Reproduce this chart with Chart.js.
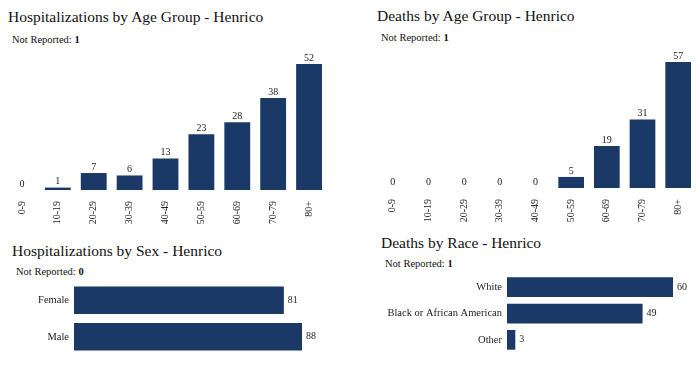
<!DOCTYPE html>
<html>
<head>
<meta charset="utf-8">
<script src="https://cdn.jsdelivr.net/npm/chart.js@4.4.1/dist/chart.umd.min.js"></script>
<style>
  body { margin: 0; background: #fff; }
  #wrap { position: relative; width: 700px; height: 372px; overflow: hidden; font-family: "Liberation Serif", "Times New Roman", serif; color: #111; }
  .title { position: absolute; font-size: 15.5px; line-height: 15.5px; white-space: nowrap; }
  .note { position: absolute; font-size: 10.5px; line-height: 10.5px; white-space: nowrap; }
  .box { position: absolute; }
</style>
</head>
<body>
<div id="wrap">
  <div class="title" style="left:8px;top:9px">Hospitalizations by Age Group - Henrico</div>
  <div class="note" style="left:12px;top:35px">Not Reported: <b>1</b></div>
  <div class="box" style="left:4px;top:48px;width:323px;height:182px"><canvas id="c1"></canvas></div>

  <div class="title" style="left:377px;top:8px">Deaths by Age Group - Henrico</div>
  <div class="note" style="left:381px;top:33px">Not Reported: <b>1</b></div>
  <div class="box" style="left:375px;top:46px;width:321px;height:182px"><canvas id="c2"></canvas></div>

  <div class="title" style="left:12px;top:243px">Hospitalizations by Sex - Henrico</div>
  <div class="note" style="left:16px;top:267px">Not Reported: <b>0</b></div>
  <div class="box" style="left:4px;top:282px;width:323px;height:73px"><canvas id="c3"></canvas></div>

  <div class="title" style="left:381px;top:235px">Deaths by Race - Henrico</div>
  <div class="note" style="left:385px;top:259px">Not Reported: <b>1</b></div>
  <div class="box" style="left:377px;top:274px;width:321px;height:79px"><canvas id="c4"></canvas></div>
</div>
<script>
// data
var ageGroups = ["0-9", "10-19", "20-29", "30-39", "40-49", "50-59", "60-69", "70-79", "80+"];
var hospByAge = [0, 1, 7, 6, 13, 23, 28, 38, 52];
var deathsByAge = [0, 0, 0, 0, 0, 5, 19, 31, 57];
var sexLabels = ["Female", "Male"];
var hospBySex = [81, 88];
var raceLabels = ["White", "Black or African American", "Other"];
var deathsByRace = [60, 49, 3];

var navy = "#1a3966";
var serif = "'Liberation Serif', 'Times New Roman', serif";

// draws the number next to each bar
var valueLabels = {
  id: "valueLabels",
  afterDatasetsDraw: function(chart) {
    var ctx = chart.ctx;
    var horiz = chart.options.indexAxis === "y";
    var meta = chart.getDatasetMeta(0);
    var vals = chart.data.datasets[0].data;
    ctx.save();
    ctx.fillStyle = "#222";
    ctx.font = "10px " + serif;
    meta.data.forEach(function(bar, i) {
      if (horiz) {
        ctx.textAlign = "left";
        ctx.textBaseline = "middle";
        ctx.fillText(vals[i], bar.x + 4, bar.y);
      } else {
        ctx.textAlign = "center";
        ctx.textBaseline = "bottom";
        ctx.fillText(vals[i], bar.x, bar.y - 1);
      }
    });
    ctx.restore();
  }
};

function columnChart(id, values) {
  new Chart(id, {
    type: "bar",
    data: {
      labels: ageGroups,
      datasets: [{ data: values, backgroundColor: navy, categoryPercentage: 1, barPercentage: 0.72 }]
    },
    options: {
      responsive: true,
      maintainAspectRatio: false,
      animation: false,
      layout: { padding: { top: 16 } },
      plugins: { legend: { display: false }, tooltip: { enabled: false } },
      scales: {
        x: {
          grid: { display: false },
          border: { display: false },
          afterFit: function(s) { s.height = 40; },
          ticks: { maxRotation: 90, minRotation: 90, padding: 3, color: "#222", font: { family: serif, size: 10 } }
        },
        y: { display: false, min: 0, max: Math.max.apply(null, values) }
      }
    },
    plugins: [valueLabels]
  });
}

function rowChart(id, labels, values, labelWidth) {
  new Chart(id, {
    type: "bar",
    data: {
      labels: labels,
      datasets: [{ data: values, backgroundColor: navy, categoryPercentage: 1, barPercentage: 0.75 }]
    },
    options: {
      indexAxis: "y",
      responsive: true,
      maintainAspectRatio: false,
      animation: false,
      layout: { padding: { right: 25 } },
      plugins: { legend: { display: false }, tooltip: { enabled: false } },
      scales: {
        x: { display: false, min: 0, max: Math.max.apply(null, values) },
        y: {
          grid: { display: false, drawTicks: false },
          border: { display: false },
          // fixed label column, no extra inset above/below the bars
          afterFit: function(s) { s.width = labelWidth; s.paddingTop = 0; s.paddingBottom = 0; },
          ticks: { padding: 5, color: "#222", font: { family: serif, size: 10.5 } }
        }
      }
    },
    plugins: [valueLabels]
  });
}

columnChart("c1", hospByAge);
columnChart("c2", deathsByAge);
rowChart("c3", sexLabels, hospBySex, 70);
rowChart("c4", raceLabels, deathsByRace, 130);
</script>
</body>
</html>
